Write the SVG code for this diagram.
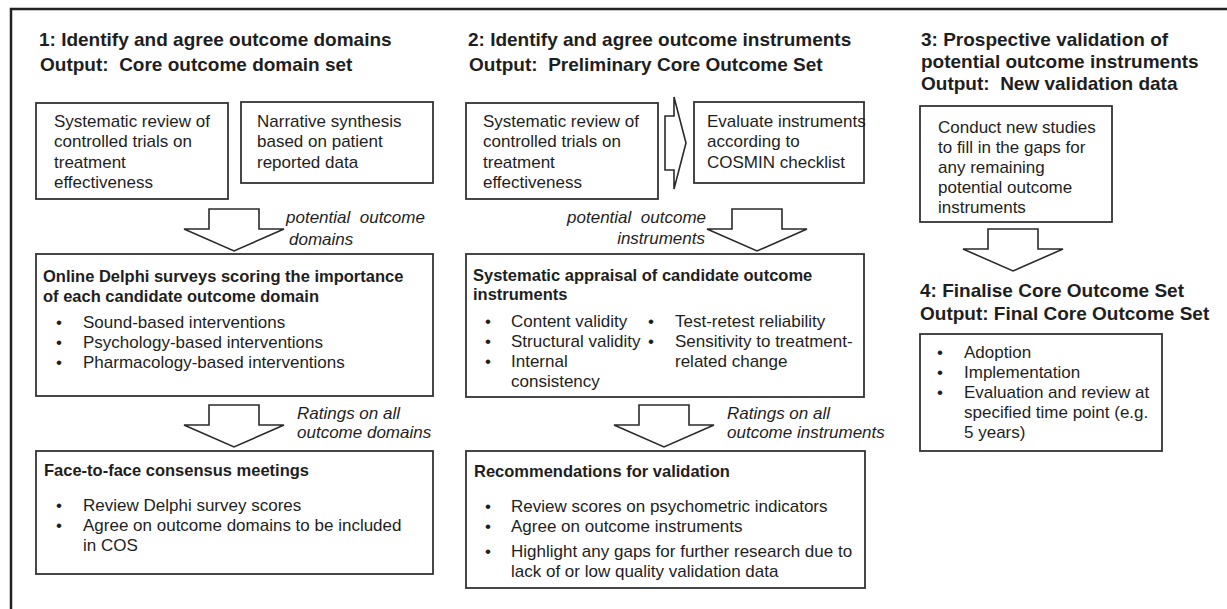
<svg xmlns="http://www.w3.org/2000/svg" width="1227" height="609" viewBox="0 0 1227 609">
<style>
text{font-family:"Liberation Sans",Arial,sans-serif;fill:#1e1e1e;white-space:pre}
.h{font-size:19px;font-weight:bold}
.b{font-size:16.5px;font-weight:bold}
.t{font-size:17px}
.i{font-size:17px;font-style:italic}
.box{fill:#fff;stroke:#333;stroke-width:1.8}
.arr{fill:#fff;stroke:#2a2a2a;stroke-width:1.6;stroke-linejoin:miter}
.frame{fill:none;stroke:#222;stroke-width:2.5}
</style>
<rect width="1227" height="609" fill="#fff"/>
<path class="frame" d="M11,609 V9 H1227"/>

<g id="headings">
<text class="h" x="39" y="46">1: Identify and agree outcome domains</text>
<text class="h" x="40" y="71">Output:  Core outcome domain set</text>
<text class="h" x="468" y="46">2: Identify and agree outcome instruments</text>
<text class="h" x="469" y="71">Output:  Preliminary Core Outcome Set</text>
<text class="h" x="921" y="46">3: Prospective validation of</text>
<text class="h" x="921" y="68">potential outcome instruments</text>
<text class="h" x="921" y="90">Output:  New validation data</text>
<text class="h" x="920" y="297">4: Finalise Core Outcome Set</text>
<text class="h" x="920" y="320">Output: Final Core Outcome Set</text>
</g>

<g id="sr1">
<rect class="box" x="36" y="103" width="192" height="96"/>
<text class="t" x="54" y="127">Systematic review of</text>
<text class="t" x="54" y="147">controlled trials on</text>
<text class="t" x="54" y="168">treatment</text>
<text class="t" x="54" y="188">effectiveness</text>
</g>

<g id="narrative">
<rect class="box" x="241" y="102" width="192" height="81"/>
<text class="t" x="257" y="127">Narrative synthesis</text>
<text class="t" x="257" y="147">based on patient</text>
<text class="t" x="257" y="168">reported data</text>
</g>

<g id="delphi">
<rect class="box" x="36" y="254" width="397" height="142"/>
<text class="b" x="43" y="282">Online Delphi surveys scoring the importance</text>
<text class="b" x="43" y="302">of each candidate outcome domain</text>
<text class="t" x="56" y="328">•</text><text class="t" x="83" y="328">Sound-based interventions</text>
<text class="t" x="56" y="348">•</text><text class="t" x="83" y="348">Psychology-based interventions</text>
<text class="t" x="56" y="368">•</text><text class="t" x="83" y="368">Pharmacology-based interventions</text>
</g>

<g id="consensus">
<rect class="box" x="36" y="451" width="397" height="123"/>
<text class="b" x="44" y="476">Face-to-face consensus meetings</text>
<text class="t" x="56" y="511">•</text><text class="t" x="83" y="511">Review Delphi survey scores</text>
<text class="t" x="56" y="531">•</text><text class="t" x="83" y="531">Agree on outcome domains to be included</text>
<text class="t" x="83" y="551">in COS</text>
</g>

<g id="sr2">
<rect class="box" x="466" y="103" width="192" height="96"/>
<text class="t" x="483" y="127">Systematic review of</text>
<text class="t" x="483" y="147">controlled trials on</text>
<text class="t" x="483" y="168">treatment</text>
<text class="t" x="483" y="188">effectiveness</text>
</g>

<g id="cosmin">
<rect class="box" x="694" y="102" width="170" height="81"/>
<text class="t" x="707" y="127">Evaluate instruments</text>
<text class="t" x="707" y="147">according to</text>
<text class="t" x="707" y="168">COSMIN checklist</text>
</g>

<g id="appraisal">
<rect class="box" x="466" y="254" width="398" height="143"/>
<text class="b" x="473" y="281">Systematic appraisal of candidate outcome</text>
<text class="b" x="473" y="300">instruments</text>
<text class="t" x="485" y="327">•</text><text class="t" x="511" y="327">Content validity</text>
<text class="t" x="485" y="347">•</text><text class="t" x="511" y="347">Structural validity</text>
<text class="t" x="485" y="367">•</text><text class="t" x="511" y="367">Internal</text>
<text class="t" x="511" y="387">consistency</text>
<text class="t" x="648" y="327">•</text><text class="t" x="675" y="327">Test-retest reliability</text>
<text class="t" x="648" y="347">•</text><text class="t" x="675" y="347">Sensitivity to treatment-</text>
<text class="t" x="675" y="367">related change</text>
</g>

<g id="recommend">
<rect class="box" x="466" y="451" width="399" height="137"/>
<text class="b" x="474" y="477">Recommendations for validation</text>
<text class="t" x="485" y="512">•</text><text class="t" x="511" y="512">Review scores on psychometric indicators</text>
<text class="t" x="485" y="532">•</text><text class="t" x="511" y="532">Agree on outcome instruments</text>
<text class="t" x="485" y="557">•</text><text class="t" x="511" y="557">Highlight any gaps for further research due to</text>
<text class="t" x="511" y="577">lack of or low quality validation data</text>
</g>

<g id="newstudies">
<rect class="box" x="920" y="106" width="192" height="116"/>
<text class="t" x="938" y="133">Conduct new studies</text>
<text class="t" x="938" y="153">to fill in the gaps for</text>
<text class="t" x="938" y="173">any remaining</text>
<text class="t" x="938" y="193">potential outcome</text>
<text class="t" x="938" y="213">instruments</text>
</g>

<g id="final">
<rect class="box" x="920" y="334" width="242" height="117"/>
<text class="t" x="937" y="358">•</text><text class="t" x="964" y="358">Adoption</text>
<text class="t" x="937" y="378">•</text><text class="t" x="964" y="378">Implementation</text>
<text class="t" x="937" y="398">•</text><text class="t" x="964" y="398">Evaluation and review at</text>
<text class="t" x="964" y="418">specified time point (e.g.</text>
<text class="t" x="964" y="438">5 years)</text>
</g>

<g id="connectors">
<polygon class="arr" points="209,209 259,209 259,229 284,229 234,251 184,229 209,229"/>
<text class="i" x="286" y="223">potential  outcome</text>
<text class="i" x="289" y="245">domains</text>

<polygon class="arr" points="209,405 259,405 259,425 284,425 234,447 184,425 209,425"/>
<text class="i" x="297" y="419">Ratings on all</text>
<text class="i" x="297" y="438">outcome domains</text>

<polygon class="arr" points="665,116 674,116 674,97 686,143 674,189 674,170 665,170"/>

<polygon class="arr" points="732,209 782,209 782,229 807,229 757,251 707,229 732,229"/>
<text class="i" x="706" y="223" text-anchor="end">potential  outcome</text>
<text class="i" x="705" y="244" text-anchor="end">instruments</text>

<polygon class="arr" points="639,405 689,405 689,425 714,425 664,447 614,425 639,425"/>
<text class="i" x="727" y="419">Ratings on all</text>
<text class="i" x="727" y="438">outcome instruments</text>

<polygon class="arr" points="988,229 1038,229 1038,249 1063,249 1013,271 963,249 988,249"/>
</g>
</svg>
